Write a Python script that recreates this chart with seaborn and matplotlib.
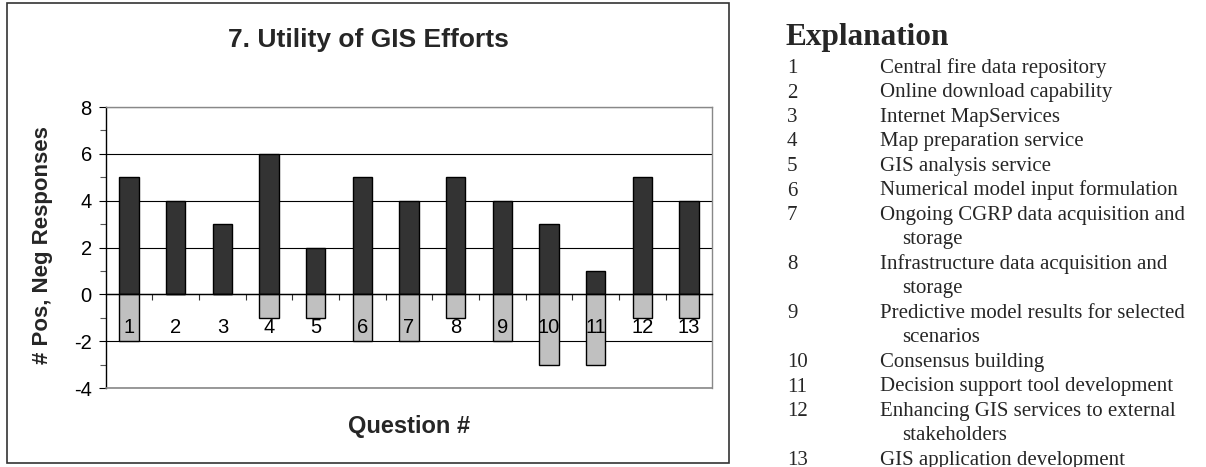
import numpy as np
import pandas as pd
import matplotlib
matplotlib.use("Agg")
import matplotlib.pyplot as plt
import seaborn as sns
from matplotlib.patches import Rectangle

# Survey results: positive and negative responses per question
question_ids = ["1", "2", "3", "4", "5", "6", "7", "8", "9", "10", "11", "12", "13"]
positive = [5, 4, 3, 6, 2, 5, 4, 5, 4, 3, 1, 5, 4]
negative = [-2, 0, 0, -1, -1, -2, -2, -1, -2, -3, -3, -1, -1]

# Question descriptions (line breaks mark wrapped continuation lines)
descriptions = [
    "Central fire data repository",
    "Online download capability",
    "Internet MapServices",
    "Map preparation service",
    "GIS analysis service",
    "Numerical model input formulation",
    "Ongoing CGRP data acquisition and\nstorage",
    "Infrastructure data acquisition and\nstorage",
    "Predictive model results for selected\nscenarios",
    "Consensus building",
    "Decision support tool development",
    "Enhancing GIS services to external\nstakeholders",
    "GIS application development",
]

sns.set_theme(style="white")
plt.rcParams["font.family"] = ["Liberation Sans", "DejaVu Sans"]
plt.rcParams["axes.unicode_minus"] = False

W, H = 1206, 467
fig = plt.figure(figsize=(W / 100, H / 100), dpi=100)


def fx(px):
    return px / W


def fy(py):
    return 1 - py / H


ax = fig.add_axes([fx(105.7), fy(388), fx(712.3) - fx(105.7), fy(107) - fy(388)])

df = pd.DataFrame({"question": question_ids, "positive": positive, "negative": negative})
sns.barplot(data=df, x="question", y="positive", order=question_ids, color="#333333",
            saturation=1, width=0.42, edgecolor="black", linewidth=1, errorbar=None,
            ax=ax, zorder=2)
sns.barplot(data=df, x="question", y="negative", order=question_ids, color="#c0c0c0",
            saturation=1, width=0.42, edgecolor="black", linewidth=1, errorbar=None,
            ax=ax, zorder=2)

ax.set_xlim(-0.5, len(question_ids) - 0.5)
ax.set_ylim(-4, 8)
ax.set_yticks([-4, -2, 0, 2, 4, 6, 8])
ax.set_yticks([-3, -1, 1, 3, 5, 7], minor=True)
ax.set_axisbelow(True)
ax.yaxis.grid(True, which="major", color="black", linewidth=0.8)
ax.xaxis.grid(False)

# Category boundaries carry small tick marks; question numbers sit just under the axis
ax.set_xticks(range(len(question_ids)))
ax.set_xticklabels([])
ax.set_xticks(np.arange(0.5, len(question_ids) - 1, 1), minor=True)
ax.tick_params(axis="x", which="major", length=0)
ax.tick_params(axis="x", which="minor", length=4, width=0.8, direction="out",
               color="#333333", bottom=True)
ax.tick_params(axis="y", which="major", length=5, width=0.8, direction="out",
               left=True, labelsize=14.5, pad=5, colors="black")
ax.tick_params(axis="y", which="minor", length=4, width=0.8, direction="out",
               left=True, color="#555555")
for i, qid in enumerate(question_ids):
    ax.annotate(qid, xy=(i, 0), xycoords="data", xytext=(0, -23.8),
                textcoords="offset points", ha="center", va="center",
                fontsize=14.5, color="black", zorder=5)

ax.set_xlabel("")
ax.set_ylabel("")

ax.spines["bottom"].set_position(("data", 0))
ax.spines["bottom"].set_color("black")
ax.spines["bottom"].set_linewidth(1)
ax.spines["left"].set_color("black")
ax.spines["left"].set_linewidth(1)
for side in ("top", "right"):
    ax.spines[side].set_color("#888888")
    ax.spines[side].set_linewidth(1)
ax.axhline(-4, color="#888888", linewidth=1.2, zorder=3, clip_on=False)

# Chart titles and axis captions
fig.text(fx(368), fy(40), "7. Utility of GIS Efforts", ha="center", va="center",
         fontsize=19, fontweight="bold")
fig.text(fx(43), fy(245), "# Pos, Neg Responses", ha="center", va="center",
         rotation=90, fontsize=16, fontweight="bold")
fig.text(fx(409), fy(426), "Question #", ha="center", va="center",
         fontsize=17, fontweight="bold")

# Outer chart frame
fig.add_artist(Rectangle((fx(7), fy(463)), fx(729) - fx(7), fy(3) - fy(463),
                         transform=fig.transFigure, fill=False,
                         edgecolor="#333333", linewidth=1.2))

# Explanation key
serif = ["Liberation Serif", "DejaVu Serif"]
fig.text(fx(785), fy(45), "Explanation", ha="left", va="baseline",
         fontsize=22.5, fontweight="bold", family=serif)
line = 0
pitch = 24.5
for qid, desc in zip(question_ids, descriptions):
    parts = desc.split("\n")
    base = 73 + pitch * line
    fig.text(fx(787), fy(base), qid, ha="left", va="baseline", fontsize=15, family=serif)
    fig.text(fx(880), fy(base), parts[0], ha="left", va="baseline", fontsize=15, family=serif)
    line += 1
    for cont in parts[1:]:
        base = 73 + pitch * line
        fig.text(fx(902), fy(base), cont, ha="left", va="baseline", fontsize=15, family=serif)
        line += 1

fig.savefig("out.png", dpi=100)
